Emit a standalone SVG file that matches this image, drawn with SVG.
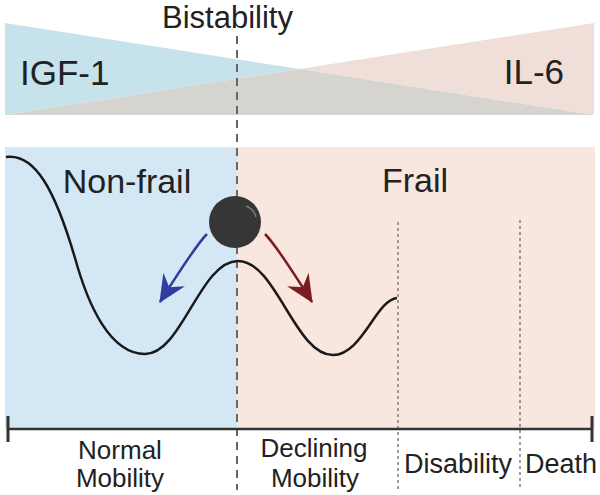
<svg xmlns="http://www.w3.org/2000/svg" width="600" height="495" viewBox="0 0 600 495">
<style>
text{font-family:"Liberation Sans",Arial,sans-serif;fill:#222}
.big{font-size:34px}
.hdr{font-size:35px}
.lbl{font-size:27px}
.lbl2{font-size:26px}
.mid{text-anchor:middle}
.dash{stroke:#666;stroke-width:2;stroke-dasharray:8 6;fill:none}
.dot{stroke:#808080;stroke-width:1.5;stroke-dasharray:3 3;fill:none}
.axis{stroke:#333;fill:none}
</style>
<defs>
<marker id="headB" markerUnits="userSpaceOnUse" markerWidth="30" markerHeight="30" refX="0" refY="0" viewBox="-24 -12 26 24" orient="auto" overflow="visible">
<path d="M1,0 L-23,-11 L-15,0 L-23,11 Z" fill="#2f3d9f"/>
</marker>
<marker id="headR" markerUnits="userSpaceOnUse" markerWidth="30" markerHeight="30" refX="0" refY="0" viewBox="-24 -12 26 24" orient="auto" overflow="visible">
<path d="M1,0 L-23,-11 L-15,0 L-23,11 Z" fill="#7b1c22"/>
</marker>
</defs>
<g id="top-gradient">
<polygon points="5,23 299.5,69 5,115" fill="#c6e2ea"/>
<polygon points="594,23 594,115 299.5,69" fill="#efdfd8"/>
<polygon points="5,115 299.5,69 594,115" fill="#d6d4ce"/>
<text x="20" y="85" class="hdr">IGF-1</text>
<text x="564" y="84" class="hdr" text-anchor="end">IL-6</text>
</g>
<g id="bistability">
<text x="227.5" y="28" font-size="31" class="mid">Bistability</text>
</g>
<g id="nonfrail">
<rect x="5" y="147" width="232" height="282" fill="#d3e8f4"/>
<text x="127" y="193" class="big mid">Non-frail</text>
</g>
<g id="frail">
<rect x="237" y="147" width="358" height="282" fill="#f9e6de"/>
<text x="415" y="192" class="big mid">Frail</text>
</g>
<g id="connectors">
<line x1="237" y1="36" x2="237" y2="490" class="dash"/>
<line x1="398" y1="222" x2="398" y2="490" class="dot"/>
<line x1="520" y1="220" x2="520" y2="490" class="dot"/>
<path d="M6,157 C35,153 55,190 75,258 C88,305 110,354 145,354 C182,354 200,261 238,261 C276,261 295,355 333,355 C362,355 376,300 397,298" fill="none" stroke="#1a1a1a" stroke-width="2.5"/>
<path d="M207,234 C197,244 177,275 160,302" fill="none" stroke="#2f3d9f" stroke-width="2.5" marker-end="url(#headB)"/>
<path d="M265,234 C275,244 295,275 312,302" fill="none" stroke="#7b1c22" stroke-width="2.5" marker-end="url(#headR)"/>
<line x1="8" y1="429" x2="592" y2="429" class="axis" stroke-width="2.5"/>
<line x1="8" y1="416" x2="8" y2="442" class="axis" stroke-width="3"/>
<line x1="592" y1="416" x2="592" y2="442" class="axis" stroke-width="3"/>
</g>
<g id="ball">
<circle cx="235" cy="222" r="26" fill="#363636"/>
<path d="M246,206 Q254,209 256,217" fill="none" stroke="#7a7a7a" stroke-width="1.5"/>
</g>
<g id="normal-mobility">
<text x="120" y="459" class="lbl2 mid">Normal</text>
<text x="120" y="487" class="lbl2 mid">Mobility</text>
</g>
<g id="declining-mobility">
<text x="314" y="457" class="lbl2 mid">Declining</text>
<text x="315" y="487" class="lbl2 mid">Mobility</text>
</g>
<g id="disability">
<text x="458" y="473" class="lbl mid">Disability</text>
</g>
<g id="death">
<text x="561" y="473" class="lbl mid">Death</text>
</g>
</svg>
